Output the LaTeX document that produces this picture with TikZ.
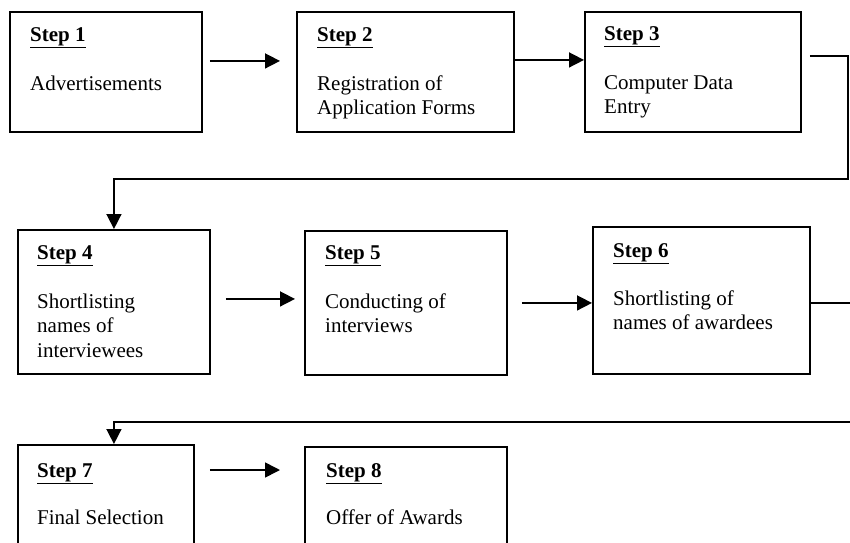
\documentclass[tikz,border=0pt]{standalone}
\usepackage{fontspec}
\setmainfont{Liberation Serif}
\usetikzlibrary{calc,arrows.meta}

\tikzset{
  stepbox/.style={draw, rectangle, line width=1.9pt, anchor=north west, inner sep=0pt},
  steptext/.style={anchor=north west, inner sep=0pt, align=left, font=\fontsize{21}{24.5}\selectfont},
  flow/.style={line width=1.6pt, -{Triangle[length=15pt,width=15pt]}},
}

\begin{document}
\begin{tikzpicture}[x=1pt,y=1pt]
\useasboundingbox (0,0) rectangle (850,542);

% first row
\draw node [stepbox, minimum width=192pt, minimum height=120pt] (s1) at (9,531) {};
\draw node [stepbox, minimum width=217pt, minimum height=120pt] (s2) at (296,531) {};
\draw node [stepbox, minimum width=216pt, minimum height=120pt] (s3) at (584,531) {};

\draw node [steptext] (t1) at ($ (s1.north west)+(21,-16) $){\underline{\textbf{Step 1}}\\[24.5pt]Advertisements};
\draw node [steptext] (t2) at ($ (s2.north west)+(21,-16) $){\underline{\textbf{Step 2}}\\[24.5pt]Registration of\\Application Forms};
\draw node [steptext] (t3) at ($ (s3.north west)+(20,-15) $){\underline{\textbf{Step 3}}\\[24.5pt]Computer Data\\Entry};

% second row
\draw node [stepbox, minimum width=192pt, minimum height=144pt] (s4) at (17,313) {};
\draw node [stepbox, minimum width=202pt, minimum height=144pt] (s5) at (304,312) {};
\draw node [stepbox, minimum width=217pt, minimum height=147pt] (s6) at (592,316) {};

\draw node [steptext] (t4) at ($ (s4.north west)+(20,-16) $){\underline{\textbf{Step 4}}\\[24.5pt]Shortlisting\\names of\\interviewees};
\draw node [steptext] (t5) at ($ (s5.north west)+(21,-15) $){\underline{\textbf{Step 5}}\\[24.5pt]Conducting of\\interviews};
\draw node [steptext] (t6) at ($ (s6.north west)+(21,-17) $){\underline{\textbf{Step 6}}\\[23.5pt]Shortlisting of\\names of awardees};

% third row
\draw node [stepbox, minimum width=176pt, minimum height=120pt] (s7) at (17,98) {};
\draw node [stepbox, minimum width=202pt, minimum height=120pt] (s8) at (304,96) {};

\draw node [steptext] (t7) at ($ (s7.north west)+(20,-19) $){\underline{\textbf{Step 7}}\\[22.5pt]Final Selection};
\draw node [steptext] (t8) at ($ (s8.north west)+(22,-17) $){\underline{\textbf{Step 8}}\\[22.5pt]Offer of Awards};

% connectors
\coordinate (turn1) at (848,363);
\coordinate (turn2) at (853,120);

\draw[flow] ($ (s1.east)+(7,11) $) -- ($ (s2.west)+(-16,11) $);
\draw[flow] ($ (s2.east)+(0,12) $) -- ($ (s3.west)+(0,12) $);
\draw[flow] ($ (s3.east)+(8,16) $) -| (turn1) -| (s4.north);

\draw[flow] ($ (s4.east)+(15,3) $) -- ($ (s5.west)+(-9,4) $);
\draw[flow] ($ (s5.east)+(14,0) $) -- ($ (s6.west)+(0,-2.5) $);
\draw[flow] ($ (s6.east)+(0,-2.5) $) -| (turn2) -| (s4.north |- s7.north);

\draw[flow] ($ (s7.north east)+(15,-26) $) -- ($ (s8.north west)+(-24,-24) $);

\end{tikzpicture}
\end{document}
